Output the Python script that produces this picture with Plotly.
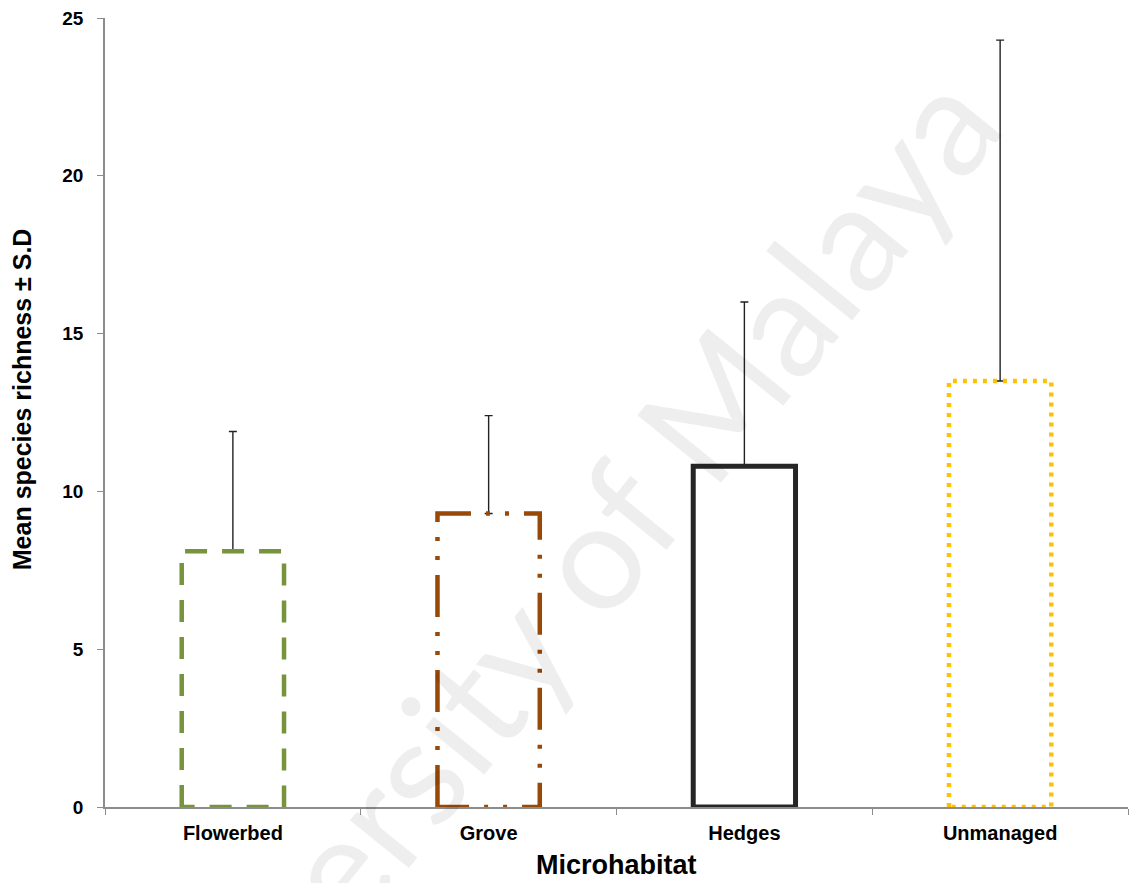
import plotly.graph_objects as go

# Mean species richness per microhabitat with +1 S.D.
categories = ["Flowerbed", "Grove", "Hedges", "Unmanaged"]
mean_richness = [8.1, 9.3, 10.8, 13.5]
sd_richness = [3.8, 3.1, 5.2, 10.8]
y_ticks = [0, 5, 10, 15, 20, 25]

outline_colors = ["#77933C", "#984807", "#262626", "#FFC000"]
outline_dashes = ["22px,15px", "42px,15px,4px,15px,4px,15px", "solid", "4px,6px"]
outline_widths = [4.5, 4.5, 5, 4.5]
bar_width = 0.4

FONT = "Liberation Sans, Arial, sans-serif"
AXIS_GRAY = "#8C8C8C"

fig = go.Figure()

# invisible bars carrying the one-sided error bars
fig.add_trace(go.Bar(
    x=list(range(len(categories))),
    y=mean_richness,
    width=bar_width,
    marker=dict(color="rgba(255,255,255,0)", line=dict(width=0)),
    error_y=dict(type="data", array=sd_richness, arrayminus=[0] * len(sd_richness),
                 symmetric=False, color="#222222", thickness=1.4, width=4),
    showlegend=False,
    hoverinfo="skip",
))

# styled bar outlines
for i, (v, col, dash, lw) in enumerate(zip(mean_richness, outline_colors,
                                           outline_dashes, outline_widths)):
    x0, x1 = i - bar_width / 2, i + bar_width / 2
    fig.add_trace(go.Scatter(
        x=[x0, x0, x1, x1, x0],
        y=[0, v, v, 0, 0],
        mode="lines",
        line=dict(color=col, width=lw, dash=dash),
        showlegend=False,
        hoverinfo="skip",
        name=categories[i],
    ))

fig.update_layout(
    width=1129,
    height=883,
    margin=dict(l=105, r=1, t=18, b=76),
    plot_bgcolor="white",
    paper_bgcolor="white",
    font=dict(family=FONT, color="#000000"),
    bargap=0.6,
)

fig.update_xaxes(
    range=[-0.5, 3.5],
    tickvals=list(range(len(categories))),
    ticktext=categories,
    ticks="",
    tickfont=dict(family=FONT, size=20, color="#000000", weight="bold"),
    showgrid=False,
    zeroline=False,
    showline=True,
    linecolor=AXIS_GRAY,
    linewidth=1.5,
    ticklabelstandoff=7,
    minor=dict(tick0=0.5, dtick=1, ticks="outside", ticklen=6,
               tickcolor=AXIS_GRAY, tickwidth=1, showgrid=False),
)

fig.update_yaxes(
    range=[0, 25],
    tickvals=y_ticks,
    ticks="outside",
    ticklen=6,
    tickcolor=AXIS_GRAY,
    tickwidth=1,
    tickfont=dict(family=FONT, size=19, color="#000000", weight="bold"),
    showgrid=False,
    zeroline=False,
    showline=True,
    linecolor=AXIS_GRAY,
    linewidth=1.5,
    ticklabelstandoff=10,
)

annotations = [
    # axis titles
    dict(text="Mean species richness ± S.D", textangle=-90,
         x=-0.081, y=0.517, xref="paper", yref="paper",
         xanchor="center", yanchor="middle", showarrow=False,
         font=dict(family=FONT, size=25, color="#000000", weight="bold")),
    dict(text="Microhabitat",
         x=0.5, y=-0.073, xref="paper", yref="paper",
         xanchor="center", yanchor="middle", showarrow=False,
         font=dict(family=FONT, size=27, color="#000000", weight="bold")),
    # watermark
    dict(text="University of Malaya", textangle=-51,
         x=0.425, y=0.245, xref="paper", yref="paper",
         xanchor="center", yanchor="middle", showarrow=False,
         font=dict(family="Lato, sans-serif", size=150, color="rgba(0,0,0,0.065)")),
]
fig.update_layout(annotations=annotations)

fig.write_html("out.html")
